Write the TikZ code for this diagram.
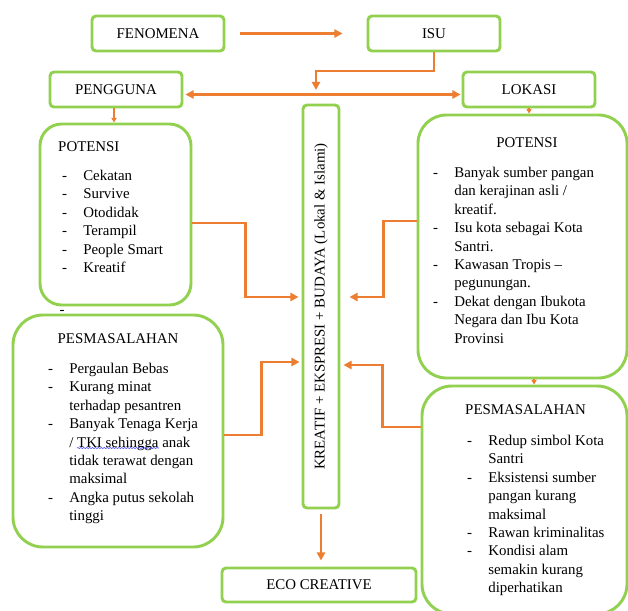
\documentclass[tikz,border=0pt]{standalone}
\usepackage{fontspec}
\setmainfont{Liberation Serif}
\usetikzlibrary{
    arrows.meta,
    calc,
    positioning,
    decorations.pathmorphing
}
\definecolor{boxgreen}{RGB}{146,208,80}
\definecolor{arrorange}{RGB}{237,125,49}
\newcommand{\itm}{\makebox[18pt][l]{-}}
\newcommand{\cnt}{\hspace*{18pt}}
\tikzset{
    txt/.style={font=\fontsize{12.7}{15.7}\selectfont, inner sep=0pt},
    box/.style={draw=boxgreen, line width=2.5pt, rounded corners=#1, inner sep=0pt},
    box/.default=0.12cm,
    lst/.style={txt, align=left, anchor=north west},
    arr/.style={draw=arrorange, line width=2.4pt, >={Triangle[length=7pt, width=7pt]}, ->},
    arrs/.style={draw=arrorange, line width=0.9pt, >={Triangle[length=4pt, width=4.5pt]}, ->},
    spell/.style={draw=blue!70, line width=0.5pt, decorate, decoration={snake, amplitude=0.5pt, segment length=2.5pt}}
}

\begin{document}
\begin{tikzpicture}[x=0.03cm, y=-0.03cm]
    \useasboundingbox (0, 0) rectangle (628, 610);
    \clip (0, 0) rectangle (628, 610);

    \node[box, txt, minimum width=3.96cm, minimum height=1.05cm] (fen) at (158, 33.5) {FENOMENA};
    \node[box, txt, minimum width=3.96cm, minimum height=1.05cm] (isu) at (434, 33.5) {ISU};
    \node[box, txt, minimum width=3.96cm, minimum height=1.05cm] (png) at (116, 89.5) {PENGGUNA};
    \node[box, txt, minimum width=3.96cm, minimum height=1.05cm] (lok) at (529, 89.5) {LOKASI};

    \node[box=0.65cm, minimum width=4.53cm, minimum height=5.43cm] (lpot) at (115.5, 214.5) {};
    \node[txt, anchor=west] (lpot-t) at (58, 147) {POTENSI};
    \node[lst] (lpot-l) at (62, 170) {\itm Cekatan\\ \itm Survive\\ \itm Otodidak\\ \itm Terampil\\ \itm People Smart\\ \itm Kreatif};
    \node[txt] (stray) at (62, 312) {-};

    \node[box=0.9cm, minimum width=6.3cm, minimum height=6.96cm] (lpes) at (118, 431) {};
    \node[txt] (lpes-t) at (118, 339) {PESMASALAHAN};
    \node[lst] (lpes-l) at (48, 363) {\itm Pergaulan Bebas\\ \itm Kurang minat\\ \cnt terhadap pesantren\\ \itm Banyak Tenaga Kerja\\ \cnt / TKI sehingga anak\\ \cnt tidak terawat dengan\\ \cnt maksimal\\ \itm Angka putus sekolah\\ \cnt tinggi};

    \node[box, txt, minimum width=1.08cm, minimum height=12.09cm] (krea) at (321, 306.5) {\rotatebox{90}{KREATIF + EKSPRESI + BUDAYA (Lokal \& Islami)}};
    \node[box, txt, minimum width=5.82cm, minimum height=1.02cm] (eco) at (319, 585) {ECO CREATIVE};

    \node[box=0.85cm, minimum width=6.27cm, minimum height=7.89cm] (rpot) at (522.5, 246.5) {};
    \node[txt] (rpot-t) at (527, 143) {POTENSI};
    \node[lst] (rpot-l) at (433, 167) {\itm Banyak sumber pangan\\ \cnt dan kerajinan asli /\\ \cnt kreatif.\\ \itm Isu kota sebagai Kota\\ \cnt Santri.\\ \itm Kawasan Tropis –\\ \cnt pegunungan.\\ \itm Dekat dengan Ibukota\\ \cnt Negara dan Ibu Kota\\ \cnt Provinsi};

    \node[box=0.9cm, minimum width=6.15cm, minimum height=6.84cm] (rpes) at (524.5, 500) {};
    \node[txt, anchor=west] (rpes-t) at (465, 410) {PESMASALAHAN};
    \node[lst] (rpes-l) at (467, 435) {\itm Redup simbol Kota\\ \cnt Santri\\ \itm Eksistensi sumber\\ \cnt pangan kurang\\ \cnt maksimal\\ \itm Rawan kriminalitas\\ \itm Kondisi alam\\ \cnt semakin kurang\\ \cnt diperhatikan};

    \coordinate (bend) at (316, 71);
    \coordinate (tipc) at (316, 90);

    \draw[arr] ($(fen.east)+(15, 0)$) -- ($(isu.west)+(-24, 0)$);
    \draw[arr] (isu.south) |- (bend) -- (tipc);
    \draw[arr, <->] ($(png.east)+(2, 5)$) -- ($(lok.west)+(-1, 5)$);
    \draw[arrs] ($(png.south)+(-2, 0)$) -- ($(png.south |- lpot.north)+(-2, 0)$);
    \draw[arrs] (lok.south) -- (lok.south |- rpot.north);
    \draw[arrs] ($(rpot.south)+(11.5, 0)$) -- ($(rpes.north)+(9.5, 0)$);

    \draw[arr] ($(lpot.east)+(0, 8.5)$) -| ($(krea.west)+(-56, -9.5)$) -- ($(krea.west)+(-3, -9.5)$);
    \draw[arr] ($(lpes.east)+(0, 4)$) -| ($(krea.west)+(-40, 55.5)$) -- ($(krea.west)+(-2, 55.5)$);
    \draw[arr] ($(rpot.west)+(0, -25.5)$) -| ($(krea.east)+(43, -9.5)$) -- ($(krea.east)+(9, -9.5)$);
    \draw[arr] ($(rpes.west)+(0, -73)$) -| ($(krea.east)+(42, 58.5)$) -- ($(krea.east)+(3, 58.5)$);
    \draw[arr] ($(krea.south)+(0, 5)$) -- ($(krea.south |- eco.north)+(0, -6)$);

    \draw[spell] (77, 448) -- (159, 448);
\end{tikzpicture}
\end{document}
